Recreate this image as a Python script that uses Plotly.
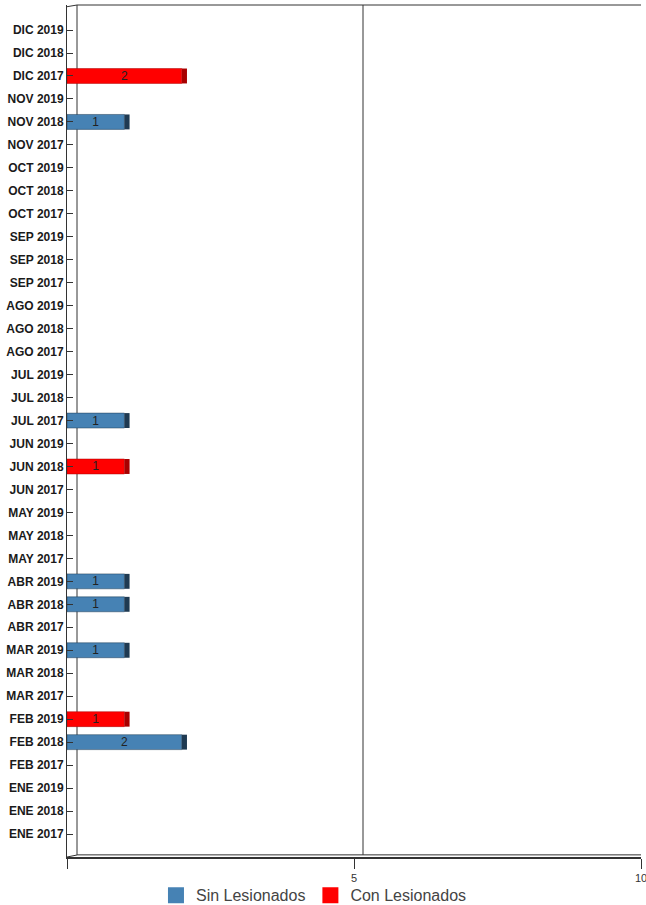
import plotly.graph_objects as go

# Categorías (de abajo hacia arriba)
meses = ['ENE', 'FEB', 'MAR', 'ABR', 'MAY', 'JUN', 'JUL', 'AGO', 'SEP', 'OCT', 'NOV', 'DIC']
anios = ['2017', '2018', '2019']
categorias = [f'{m} {a}' for m in meses for a in anios]

# Valores por serie
sin_lesionados = {'FEB 2018': 2, 'MAR 2019': 1, 'ABR 2018': 1, 'ABR 2019': 1, 'JUL 2017': 1, 'NOV 2018': 1}
con_lesionados = {'FEB 2019': 1, 'JUN 2018': 1, 'DIC 2017': 2}

sin_vals = [sin_lesionados.get(c) for c in categorias]
con_vals = [con_lesionados.get(c) for c in categorias]

fig = go.Figure()

def barra_3d(vals, nombre, color, oscuro):
    # cara frontal
    fig.add_trace(go.Bar(
        y=categorias, x=vals, orientation='h', name=nombre, showlegend=False,
        marker=dict(color=color, line=dict(color=oscuro, width=0.5)),
        width=0.65, text=vals, textposition='inside', insidetextanchor='middle',
        constraintext='none',
        textfont=dict(color='#222222', size=12, family='Liberation Sans'),
        textangle=0, hoverinfo='x+y', legendgroup=nombre
    ))
    # cara lateral (efecto 3D)
    fig.add_trace(go.Bar(
        y=categorias, x=[0.09 if v else None for v in vals], base=vals,
        orientation='h', marker=dict(color=oscuro, line=dict(width=0)),
        width=0.65, showlegend=False, hoverinfo='skip', legendgroup=nombre
    ))
    # entrada de leyenda (cuadro grande)
    fig.add_trace(go.Scatter(
        x=[None], y=[None], mode='markers', name=nombre, legendgroup=nombre,
        marker=dict(symbol='square', size=16, color=color)
    ))

barra_3d(sin_vals, 'Sin Lesionados', '#4682b4', '#1f3a52')
barra_3d(con_vals, 'Con Lesionados', '#ff0000', '#a80000')

# Paredes del fondo (pseudo 3D)
linea = dict(color='#333333', width=1)
shapes = [
    dict(type='line', xref='x', xsizemode='pixel', xanchor=0, x0=10, x1=10,
         yref='paper', y0=0.0025, y1=1, line=linea, layer='below'),
    dict(type='line', xref='x', xsizemode='pixel', xanchor=5, x0=9, x1=9,
         yref='paper', y0=0.0025, y1=1, line=linea, layer='below'),
    dict(type='line', xref='x', xsizemode='pixel', xanchor=0, x0=10, x1=600,
         yref='paper', y0=1, y1=1, line=linea, layer='below'),
    dict(type='line', xref='x', xsizemode='pixel', xanchor=0, x0=10, x1=600,
         yref='paper', y0=0.0025, y1=0.0025, line=linea, layer='below'),
    dict(type='line', xref='x', xsizemode='pixel', xanchor=0, x0=0, x1=10,
         yref='y', ysizemode='pixel', yanchor=-1.0, y0=0, y1=2, line=linea, layer='below'),
    dict(type='line', xref='x', xsizemode='pixel', xanchor=0, x0=0, x1=10,
         yref='paper', y0=0.998, y1=1, line=linea, layer='below'),
]

fig.update_layout(
    width=646, height=905,
    margin=dict(l=67, r=5, t=5, b=48, autoexpand=False),
    paper_bgcolor='white', plot_bgcolor='white',
    barmode='overlay', bargap=0.3,
    font=dict(family='Liberation Sans', color='#222222'),
    shapes=shapes,
    showlegend=True,
    legend=dict(orientation='h', x=0.155, xanchor='left', y=-0.045, yanchor='middle',
                font=dict(size=16, color='#444444'), traceorder='normal',
                bgcolor='rgba(0,0,0,0)', itemclick=False),
    xaxis=dict(range=[0, 10], tickvals=[0, 5, 10], ticktext=['', '5', '10'],
               ticks='outside', ticklen=10, tickcolor='#333333',
               showline=True, linecolor='#333333', linewidth=2,
               showgrid=False, zeroline=False, automargin=False,
               ticklabeloverflow='allow',
               tickfont=dict(size=11, color='#333333')),
    yaxis=dict(range=[-1.0, 36.09], type='category',
               ticks='inside', ticklen=6, tickcolor='#333333',
               showline=True, linecolor='#333333', linewidth=1,
               showgrid=False, automargin=False,
               tickfont=dict(size=12, color='#1a1a1a', weight='bold')),
)

fig.write_html('out.html', config={'displayModeBar': False},
               post_script="document.body.style.margin='0';")
